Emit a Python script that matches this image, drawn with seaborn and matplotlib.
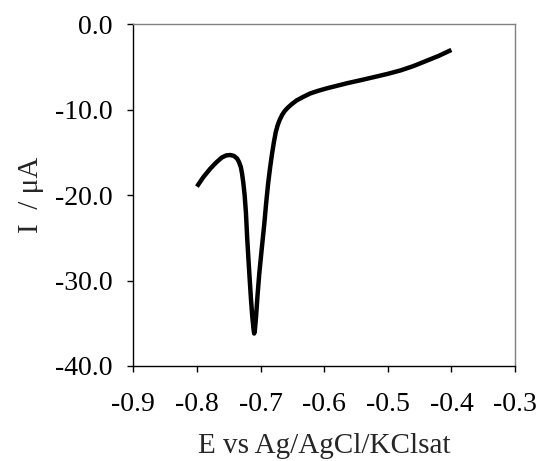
import pandas as pd
import numpy as np
import matplotlib
matplotlib.use("Agg")
import matplotlib.pyplot as plt
import seaborn as sns

sns.set_style("white")
plt.rcParams['font.family'] = ['Liberation Serif', 'DejaVu Serif']

# potential (V) and current (uA)
potential = [-0.800, -0.790, -0.779, -0.770, -0.761, -0.754, -0.748, -0.742,
             -0.737, -0.734, -0.731, -0.729, -0.727, -0.725, -0.723, -0.721,
             -0.719, -0.717, -0.715, -0.713, -0.711, -0.710, -0.709, -0.707,
             -0.705, -0.702, -0.698, -0.694, -0.691, -0.688, -0.685, -0.682,
             -0.679, -0.676, -0.673, -0.670, -0.666, -0.662, -0.657, -0.651,
             -0.643, -0.633, -0.622, -0.610, -0.596, -0.580, -0.564, -0.540,
             -0.517, -0.500, -0.480, -0.460, -0.440, -0.420, -0.400]
current = [-19.0, -17.9, -16.9, -16.2, -15.6, -15.35, -15.3, -15.4,
           -15.7, -16.1, -16.7, -17.5, -18.6, -20.0, -22.0, -25.0,
           -27.5, -29.9, -32.2, -34.2, -35.7, -36.2, -35.9, -34.2,
           -32.0, -29.2, -26.2, -23.3, -20.8, -18.6, -16.8, -15.2,
           -13.8, -12.6, -11.8, -11.2, -10.6, -10.15, -9.75, -9.35,
           -8.9, -8.5, -8.1, -7.8, -7.5, -7.2, -6.9, -6.5,
           -6.1, -5.8, -5.4, -4.9, -4.3, -3.7, -3.0]

x_ticks = [-0.9, -0.8, -0.7, -0.6, -0.5, -0.4, -0.3]
y_ticks = [-40.0, -30.0, -20.0, -10.0, 0.0]

df = pd.DataFrame({'E': potential, 'I': current})

fig = plt.figure(figsize=(5.39, 4.61), dpi=100)
ax = fig.add_axes([0.2473, 0.2061, 0.9555 - 0.2473, 0.9473 - 0.2061])
sns.lineplot(data=df, x='E', y='I', ax=ax, color='black', linewidth=3.2,
             sort=False, solid_capstyle='butt', solid_joinstyle='round')

ax.set_xlim(-0.9, -0.3)
ax.set_ylim(-40, 0)
ax.set_xticks(x_ticks)
ax.set_xticklabels([f"{t:.1f}" for t in x_ticks])
ax.set_yticks(y_ticks)
ax.set_yticklabels([f"{t:.1f}" for t in y_ticks])
ax.tick_params(axis='both', direction='out', length=4, width=1, colors='black',
               labelsize=20)
ax.tick_params(axis='x', pad=15, bottom=True)
ax.tick_params(axis='y', pad=11, left=True)

for side in ['left', 'bottom']:
    ax.spines[side].set_color('black')
    ax.spines[side].set_linewidth(1)
for side in ['top', 'right']:
    ax.spines[side].set_color('#808080')
    ax.spines[side].set_linewidth(1)

ax.set_xlabel('E vs Ag/AgCl/KClsat', fontsize=21, labelpad=11)
ax.set_ylabel('I  / μA', fontsize=21, labelpad=8)

fig.savefig('out.png', dpi=100)
